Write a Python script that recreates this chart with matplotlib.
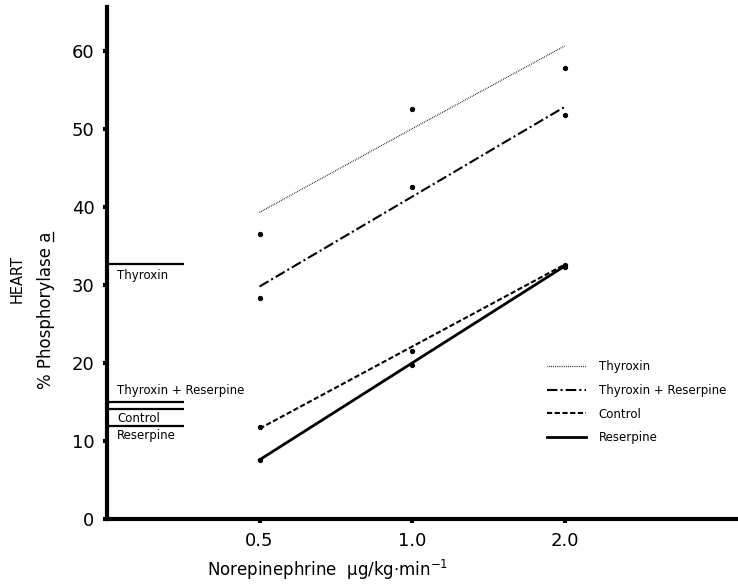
import numpy as np
import matplotlib
matplotlib.use("Agg")
import matplotlib.pyplot as plt
from matplotlib.lines import Line2D

# doses (log2 axis) and group names
doses = [0.5, 1.0, 2.0]
groups = ["Thyroxin", "Thyroxin + Reserpine", "Control", "Reserpine"]

# fitted lines
fit_thyroxin = [39.3, 50.0, 60.6]
fit_thy_res = [29.8, 41.3, 52.8]
fit_control = [11.6, 22.1, 32.6]
fit_reserpine = [7.6, 20.0, 32.4]

# measured points
pts_thyroxin = [36.5, 52.6, 57.8]
pts_thy_res = [28.3, 42.6, 51.8]
pts_control = [11.8, 21.6, 32.6]
pts_reserpine = [7.6, 19.7, 32.3]

# baseline levels (no norepinephrine), drawn as bars on the left
base_values = [32.7, 15.0, 14.1, 11.9]

yticks = [0, 10, 20, 30, 40, 50, 60]
xticks = [0.5, 1.0, 2.0]
xtick_labels = ["0.5", "1.0", "2.0"]

fig = plt.figure(figsize=(7.38, 5.86), dpi=100)
ax = fig.add_axes([0.145, 0.114, 0.855, 0.874])
ax.set_xscale("log", base=2)
ax.set_xlim(0.25, 4.4)
ax.set_ylim(0, 65.6)

styles = [
    dict(linestyle=(0, (0.6, 0.9)), linewidth=0.9),
    dict(linestyle=(0, (5, 1.5, 1, 1.5)), linewidth=1.5),
    dict(linestyle=(0, (2.5, 1.2)), linewidth=1.5),
    dict(linestyle="-", linewidth=2.0),
]
fits = [fit_thyroxin, fit_thy_res, fit_control, fit_reserpine]
pts = [pts_thyroxin, pts_thy_res, pts_control, pts_reserpine]

for name, f, p, st in zip(groups, fits, pts, styles):
    ax.plot(doses, f, color="black", label=name, **st)
    ax.plot(doses, p, "o", color="black", markersize=2.8, linestyle="none")

# baseline bars
bar_x = [0.25, 0.354]
for v in base_values:
    ax.plot(bar_x, [v, v], color="black", linewidth=1.6, solid_capstyle="butt")

ax.text(0.262, base_values[0] - 0.6, "Thyroxin", fontsize=8.5, va="top", ha="left")
ax.text(0.262, base_values[1] + 0.6, "Thyroxin + Reserpine", fontsize=8.5, va="bottom", ha="left")
ax.text(0.262, base_values[2] - 0.4, "Control", fontsize=8.5, va="top", ha="left")
ax.text(0.262, base_values[3] - 0.4, "Reserpine", fontsize=8.5, va="top", ha="left")

leg = ax.legend(loc="upper left", bbox_to_anchor=(0.68, 0.332), frameon=False,
                fontsize=8.5, handlelength=3.3, handletextpad=1.1, labelspacing=0.92)

ax.set_xticks(xticks)
ax.set_xticklabels(xtick_labels)
ax.xaxis.set_minor_locator(matplotlib.ticker.NullLocator())
ax.set_yticks(yticks)
ax.tick_params(axis="both", direction="out", length=3, width=3, labelsize=13, pad=6)

for s in ["top", "right"]:
    ax.spines[s].set_visible(False)
for s in ["left", "bottom"]:
    ax.spines[s].set_linewidth(3)

ax.set_xlabel("Norepinephrine  \u03bcg/kg$\\cdot$min$^{-1}$", fontsize=12)
ax.xaxis.set_label_coords(0.35, -0.075)
fig.text(0.023, 0.524, "HEART", rotation=90, fontsize=10.5, ha="center", va="center")
ylab = fig.text(0.062, 0.471, "% Phosphorylase a", rotation=90, fontsize=12,
                ha="center", va="center")

# underline the "a" (top end of the rotated label, baseline on the right)
fig.canvas.draw()
bb = ylab.get_window_extent(fig.canvas.get_renderer())
ux = (bb.x1 - 2) / fig.bbox.width
uy0 = (bb.y1 - 10) / fig.bbox.height
uy1 = (bb.y1 - 1) / fig.bbox.height
fig.add_artist(Line2D([ux, ux], [uy0, uy1], transform=fig.transFigure,
                      color="black", linewidth=1))

fig.savefig("out.png", dpi=100)
